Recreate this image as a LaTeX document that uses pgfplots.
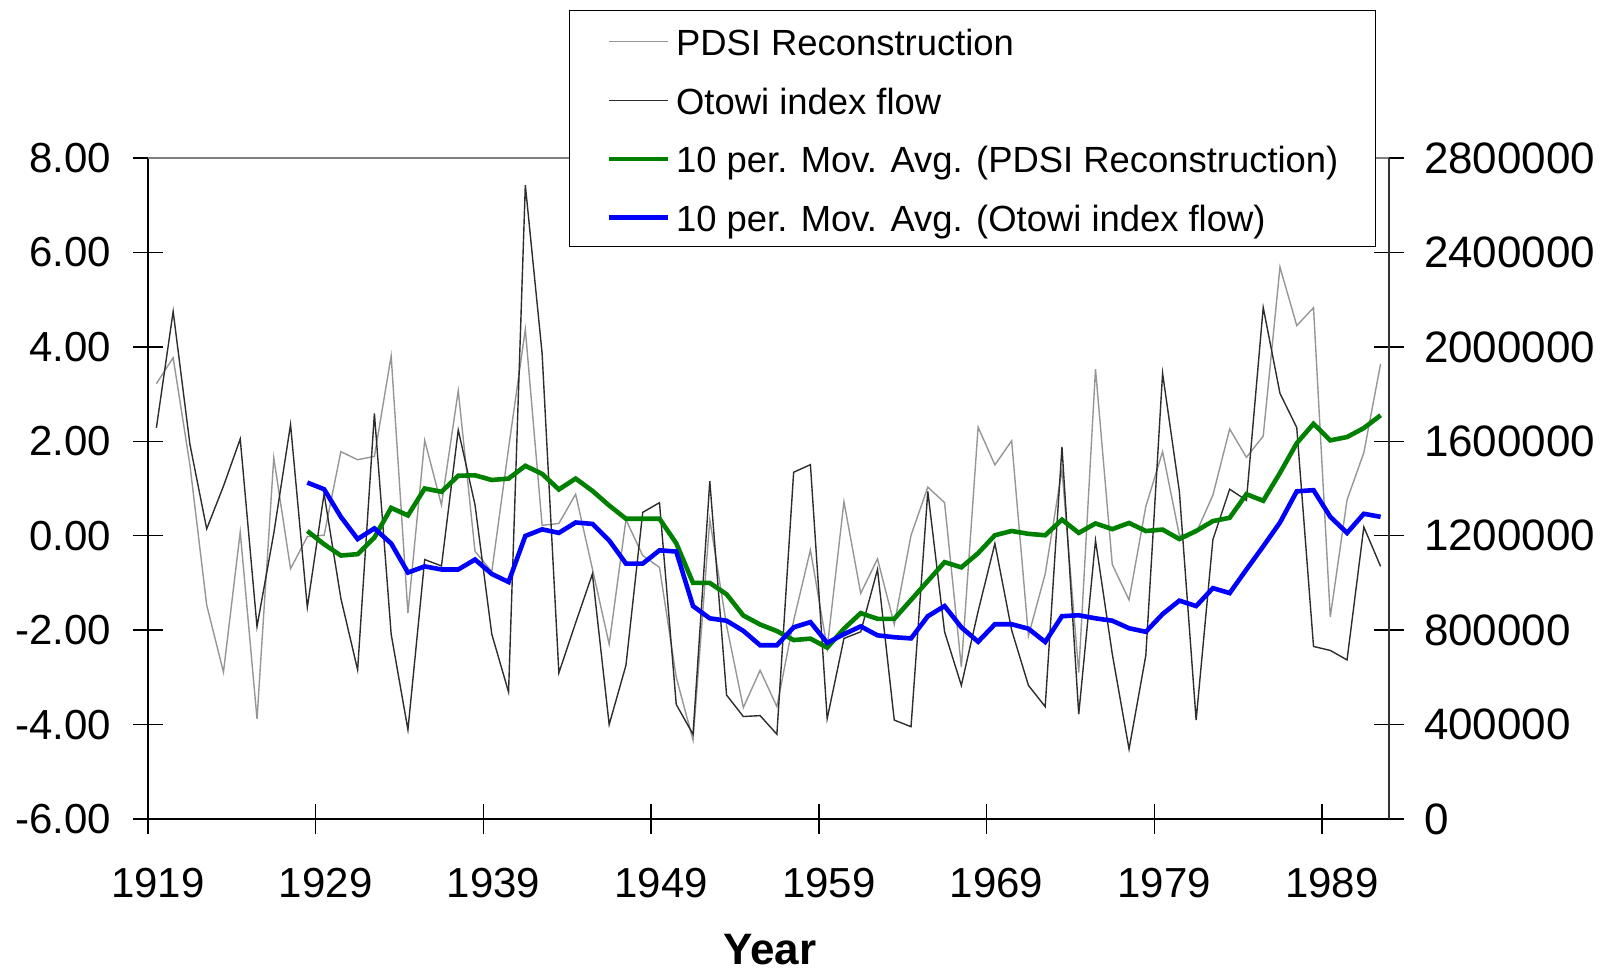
\documentclass[border=0pt]{standalone}
\usepackage{fontspec}
\setmainfont{Liberation Sans}
\usepackage{pgfplots}
\pgfplotsset{compat=1.18}
\usepackage{pgfplotstable}

% PDSI reconstruction and Otowi index flow
\pgfplotstableread{
year pdsi flow
1919 3.22 1657000
1920 3.77 2150000
1921 1.50 1587000
1922 -1.47 1229000
1923 -2.89 1410000
1924 0.08 1610000
1925 -3.88 815000
1926 1.65 1210000
1927 -0.70 1671000
1928 -0.02 897000
1929 0.01 1378000
1930 1.78 935000
1931 1.61 632000
1932 1.68 1718000
1933 3.81 783000
1934 -1.64 378000
1935 2.02 1099000
1936 0.65 1072000
1937 3.07 1648000
1938 -0.33 1331000
1939 -0.76 783000
1940 1.85 538000
1941 4.37 2685000
1942 0.22 1973000
1943 0.26 619000
1944 0.88 831000
1945 -0.70 1038000
1946 -2.30 400000
1947 0.34 651000
1948 -0.42 1299000
1949 -0.67 1340000
1950 -3.00 485000
1951 -4.33 359000
1952 0.34 1431000
1953 -1.90 525000
1954 -3.64 434000
1955 -2.85 438000
1956 -3.62 359000
1957 -1.80 1469000
1958 -0.30 1501000
1959 -2.38 425000
1960 0.72 765000
1961 -1.22 793000
1962 -0.49 1057000
1963 -1.88 419000
1964 0.01 391000
1965 1.03 1388000
1966 0.70 793000
1967 -2.78 566000
1968 2.30 880000
1969 1.50 1167000
1970 2.01 800000
1971 -2.12 566000
1972 -0.81 476000
1973 1.40 1576000
1974 -2.90 444000
1975 3.53 1180000
1976 -0.61 699000
1977 -1.36 296000
1978 0.62 693000
1979 1.78 1888000
1980 0.01 1388000
1981 0.06 419000
1982 0.86 1184000
1983 2.26 1397000
1984 1.66 1350000
1985 2.11 2167000
1986 5.69 1803000
1987 4.45 1658000
1988 4.83 731000
1989 -1.72 714000
1990 0.76 674000
1991 1.76 1237000
1992 3.64 1070000
}\yearly

% 10 period moving averages
\pgfplotstableread{
year pdsima flowma
1928 0.10 1425000
1929 -0.18 1397000
1930 -0.42 1280000
1931 -0.39 1186000
1932 -0.04 1231000
1933 0.59 1167000
1934 0.43 1044000
1935 1.00 1070000
1936 0.93 1057000
1937 1.27 1057000
1938 1.28 1099000
1939 1.18 1038000
1940 1.21 1004000
1941 1.48 1199000
1942 1.31 1227000
1943 0.98 1212000
1944 1.21 1256000
1945 0.95 1250000
1946 0.64 1180000
1947 0.36 1082000
1948 0.36 1082000
1949 0.36 1138000
1950 -0.16 1133000
1951 -1.00 902000
1952 -1.00 850000
1953 -1.24 840000
1954 -1.69 797000
1955 -1.88 736000
1956 -2.02 736000
1957 -2.21 812000
1958 -2.18 834000
1959 -2.37 746000
1960 -1.97 783000
1961 -1.64 816000
1962 -1.76 778000
1963 -1.76 770000
1964 -1.36 765000
1965 -0.96 859000
1966 -0.56 902000
1967 -0.67 812000
1968 -0.37 751000
1969 0.01 825000
1970 0.10 825000
1971 0.04 806000
1972 0.01 750000
1973 0.34 859000
1974 0.06 863000
1975 0.26 850000
1976 0.14 840000
1977 0.27 808000
1978 0.10 793000
1979 0.13 868000
1980 -0.07 925000
1981 0.10 902000
1982 0.31 978000
1983 0.38 957000
1984 0.88 1057000
1985 0.74 1155000
1986 1.33 1256000
1987 1.96 1388000
1988 2.37 1393000
1989 2.02 1280000
1990 2.09 1212000
1991 2.28 1293000
1992 2.55 1280000
}\movavg

\definecolor{pdsigray}{RGB}{150,150,150}
\definecolor{flowdark}{RGB}{45,45,45}
\definecolor{magreen}{RGB}{0,128,0}
\definecolor{mablue}{RGB}{0,0,255}

\pgfplotsset{
  frame/.style={
    width=620.5pt, height=330.5pt, scale only axis,
    xmin=1918.5, xmax=1992.5,
    tick align=center, major tick length=15pt,
    tick style={black, line width=0.7pt},
    ticklabel style={font=\fontsize{21}{25}\selectfont},
    /pgf/number format/assume math mode=true,
  },
  pdsiline/.style={pdsigray, line width=0.7pt},
  flowline/.style={flowdark, line width=0.7pt},
  greenline/.style={magreen, line width=2.3pt},
  blueline/.style={mablue, line width=2.3pt},
}

\begin{document}
\begin{tikzpicture}
\path[use as bounding box] (-74pt,-76pt) rectangle (726.5pt,409.5pt);

% left scale: PDSI
\begin{axis}[frame,
    ymin=-6, ymax=8,
    axis x line*=bottom, axis y line*=left,
    axis line style={black, line width=0.8pt},
    xtick={1918.5,1928.5,1938.5,1948.5,1958.5,1968.5,1978.5,1988.5},
    xticklabels={1919,1929,1939,1949,1959,1969,1979,1989},
    xticklabel style={xshift=5pt, yshift=-13.5pt},
    ytick={-6,-4,-2,0,2,4,6,8},
    yticklabel style={xshift=-7.5pt,
      /pgf/number format/.cd, fixed, fixed zerofill, precision=2},
    xlabel={Year},
    xlabel style={font=\fontsize{22}{26}\selectfont\bfseries,
      at={(axis description cs:0.501,0)}, anchor=base, yshift=-72.5pt},
  ]
  \addplot[pdsiline] table[x=year, y=pdsi] {\yearly};
\end{axis}

% right scale: Otowi index flow
\begin{axis}[frame,
    ymin=0, ymax=2800000,
    axis x line*=top, axis y line*=right,
    x axis line style={black!50, line width=0.8pt},
    y axis line style={black!80, line width=0.8pt},
    xtick=\empty,
    ytick={0,400000,800000,1200000,1600000,2000000,2400000,2800000},
    scaled y ticks=false,
    yticklabel style={xshift=6.5pt, font=\fontsize{22}{26}\selectfont,
      /pgf/number format/.cd, fixed, precision=0, 1000 sep={}},
  ]
  \addplot[flowline] table[x=year, y=flow] {\yearly};
\end{axis}

% moving average of PDSI, left scale
\begin{axis}[frame, hide axis, ymin=-6, ymax=8]
  \addplot[greenline] table[x=year, y=pdsima] {\movavg};
\end{axis}

% moving average of flow, right scale, with the legend
\begin{axis}[frame, hide axis, ymin=0, ymax=2800000,
    legend image code/.code={\draw[#1] (0pt,-0.5pt) -- (29.5pt,-0.5pt);},
    legend cell align=left,
    legend style={
      at={(axis description cs:0.3392,1.2239)}, anchor=north west,
      draw=black, line width=0.6pt, fill=white,
      font=\fontsize{18.2}{22}\selectfont,
      inner xsep=18.5pt, inner ysep=6pt,
      row sep=11.3pt, column sep=3pt,
      nodes={inner sep=0pt, text height=16.5pt, text depth=1.5pt},
    },
  ]
  \addlegendimage{pdsiline}
  \addlegendentry{PDSI Reconstruction}
  \addlegendimage{flowline}
  \addlegendentry{Otowi index flow}
  \addlegendimage{greenline}
  \addlegendentry{10 per. Mov. Avg. (PDSI Reconstruction)}
  \addplot[blueline] table[x=year, y=flowma] {\movavg};
  \addlegendentry{10 per. Mov. Avg. (Otowi index flow)}
\end{axis}
\end{tikzpicture}
\end{document}
